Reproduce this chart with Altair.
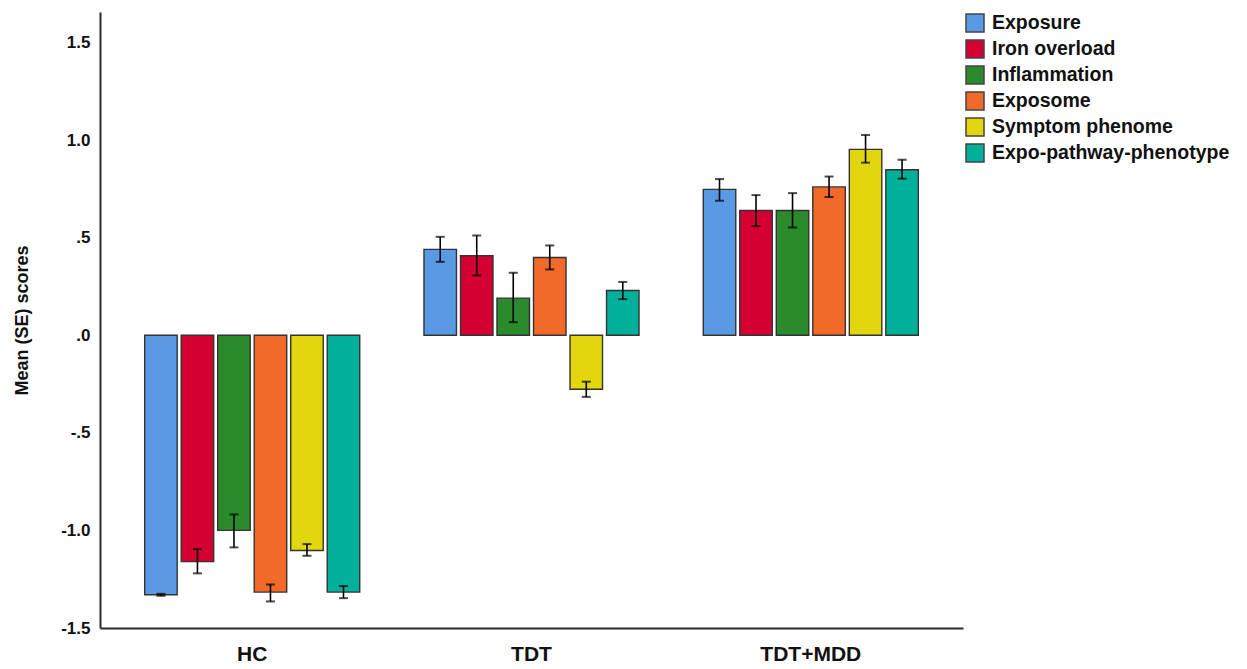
import altair as alt
import pandas as pd

groups = ["HC", "TDT", "TDT+MDD"]
measures = ["Exposure", "Iron overload", "Inflammation", "Exposome",
            "Symptom phenome", "Expo-pathway-phenotype"]
colors = ["#5A9AE4", "#D50032", "#2A8A2C", "#F26A2A", "#E2D60E", "#00B09B"]

hc_mean = [-1.33, -1.16, -1.00, -1.316, -1.103, -1.316]
hc_lo = [-1.335, -1.22, -1.087, -1.364, -1.13, -1.347]
hc_hi = [-1.325, -1.096, -0.918, -1.277, -1.07, -1.285]

tdt_mean = [0.44, 0.407, 0.19, 0.398, -0.277, 0.229]
tdt_lo = [0.376, 0.306, 0.067, 0.337, -0.316, 0.185]
tdt_hi = [0.504, 0.511, 0.32, 0.46, -0.238, 0.273]

mdd_mean = [0.747, 0.639, 0.639, 0.76, 0.952, 0.848]
mdd_lo = [0.689, 0.559, 0.552, 0.708, 0.884, 0.802]
mdd_hi = [0.80, 0.718, 0.728, 0.813, 1.026, 0.899]

y_ticks = [-1.5, -1.0, -0.5, 0.0, 0.5, 1.0, 1.5]

rows = []
for g, means, los, his in [("HC", hc_mean, hc_lo, hc_hi),
                           ("TDT", tdt_mean, tdt_lo, tdt_hi),
                           ("TDT+MDD", mdd_mean, mdd_lo, mdd_hi)]:
    for m, v, lo, hi in zip(measures, means, los, his):
        rows.append({"group": g, "measure": m, "mean": v, "lo": lo, "hi": hi})
df = pd.DataFrame(rows)

FONT = "Liberation Sans"

x_enc = alt.X("group:N", sort=groups,
              scale=alt.Scale(paddingInner=0.23, paddingOuter=0.16),
              axis=alt.Axis(title=None, labelAngle=0, ticks=False,
                            labelFont=FONT, labelFontSize=21, labelFontWeight="bold",
                            labelColor="#111", labelPadding=15,
                            domainColor="#2a2a2a", domainWidth=2))
xo_enc = alt.XOffset("measure:N", sort=measures,
                     scale=alt.Scale(paddingInner=0.11, paddingOuter=0))
y_scale = alt.Scale(domain=[-1.5, 1.656], nice=False, zero=False)

label_expr = ("(datum.value < 0 ? '-' : '') + (abs(datum.value) < 1 ? '.' + "
              "format(abs(datum.value) * 10, 'd') : format(abs(datum.value), '.1f'))")

y_axis = alt.Axis(title="Mean (SE) scores", values=y_ticks, labelExpr=label_expr,
                  ticks=False, grid=False, labelPadding=10,
                  labelFont=FONT, labelFontSize=17, labelFontWeight="bold",
                  labelColor="#111",
                  titleFont=FONT, titleFontSize=18, titleFontWeight="bold",
                  titleColor="#111", titleX=-78, titleY=308, titleAngle=-90,
                  titleAlign="center", titleBaseline="middle",
                  domainColor="#2a2a2a", domainWidth=2)

bars = alt.Chart(df).mark_bar(stroke="#333333", strokeWidth=1.4).encode(
    x=x_enc,
    xOffset=xo_enc,
    y=alt.Y("mean:Q", scale=y_scale, axis=y_axis),
    y2=alt.datum(0),
    color=alt.Color("measure:N", sort=measures,
                    scale=alt.Scale(domain=measures, range=colors),
                    legend=alt.Legend(title=None, orient="none", legendX=865, legendY=1,
                                      symbolType="square", symbolSize=324,
                                      symbolStrokeColor="#444", symbolStrokeWidth=1.5,
                                      labelFont=FONT, labelFontSize=19.5,
                                      labelFontWeight="bold", labelColor="#111",
                                      labelLimit=0, labelOffset=7, rowPadding=2,
                                      padding=0)),
)

rules = alt.Chart(df).mark_rule(color="black", strokeWidth=1.6).encode(
    x=alt.X("group:N", sort=groups),
    xOffset=alt.XOffset("measure:N", sort=measures),
    y=alt.Y("lo:Q"),
    y2="hi:Q",
)

cap_lo = alt.Chart(df).mark_tick(color="black", thickness=2, size=9).encode(
    x=alt.X("group:N", sort=groups),
    xOffset=alt.XOffset("measure:N", sort=measures),
    y=alt.Y("lo:Q"),
)
cap_hi = alt.Chart(df).mark_tick(color="black", thickness=2, size=9).encode(
    x=alt.X("group:N", sort=groups),
    xOffset=alt.XOffset("measure:N", sort=measures),
    y=alt.Y("hi:Q"),
)

chart = alt.layer(bars, rules, cap_lo, cap_hi).properties(
    width=863, height=616,
    autosize=alt.AutoSizeParams(type="none"),
    padding={"left": 92, "top": 4, "right": 276, "bottom": 40},
    background="white",
).configure_view(stroke="transparent", strokeWidth=0)

chart.save("out.html", embed_options={"renderer": "svg", "actions": False})
